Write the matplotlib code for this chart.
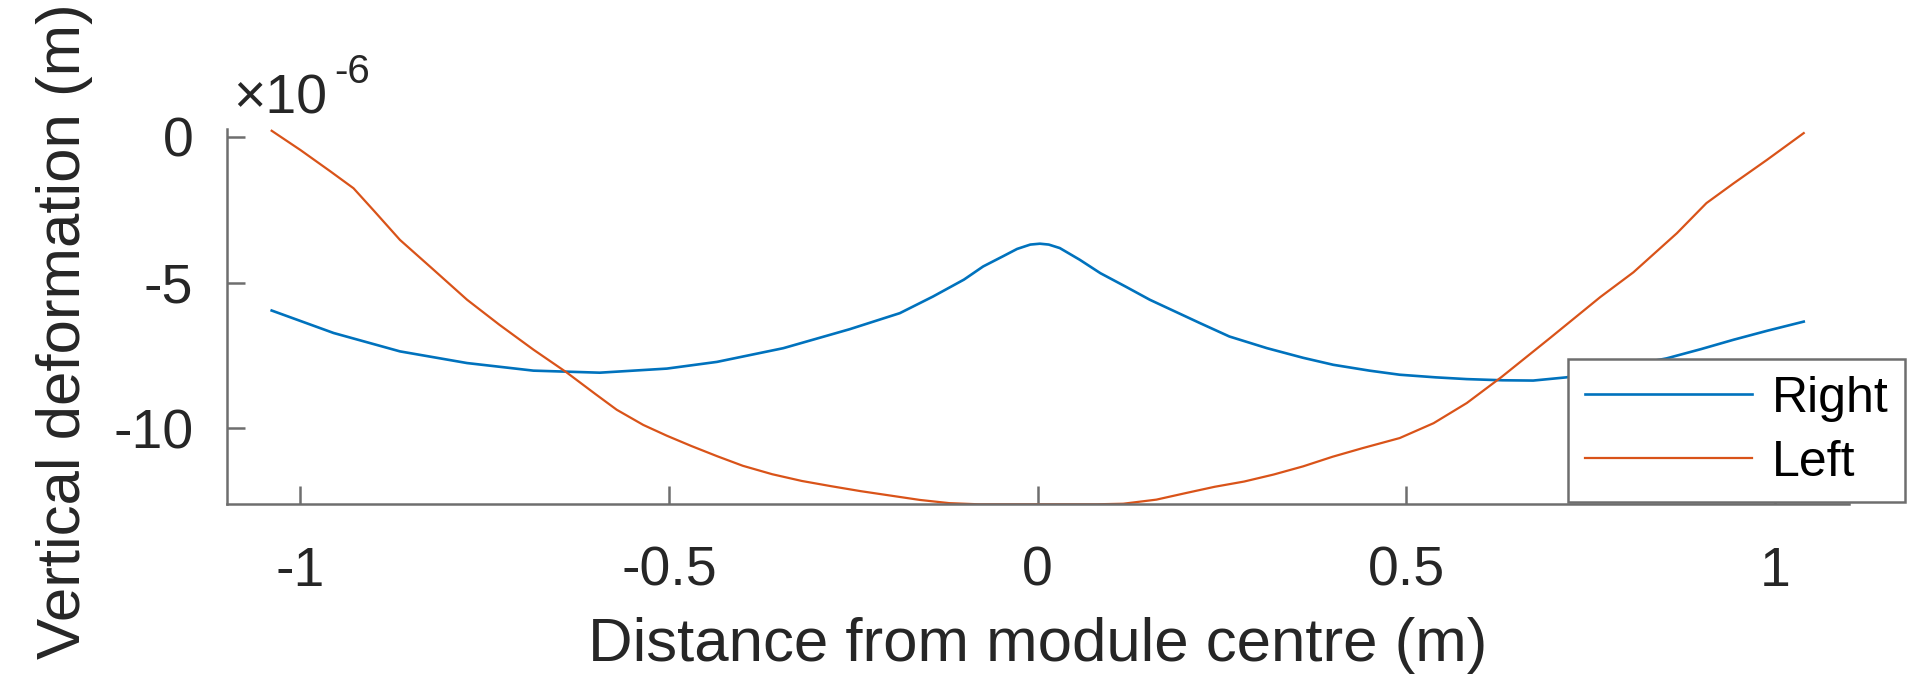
import matplotlib
matplotlib.use("Agg")
import matplotlib.pyplot as plt
from matplotlib.ticker import FuncFormatter, FixedLocator

# ---- data (vertical deformation in units of 1e-6 m) ----
x_right = [-1.039, -0.955, -0.865, -0.774, -0.684, -0.594, -0.503, -0.435, -0.345,
           -0.255, -0.187, -0.142, -0.100, -0.074, -0.047, -0.028, -0.010, 0.003,
           0.015, 0.030, 0.057, 0.085, 0.120, 0.152, 0.220, 0.260, 0.311, 0.360,
           0.401, 0.450, 0.491, 0.540, 0.582, 0.630, 0.672, 0.717, 0.853, 0.900,
           0.944, 0.990, 1.039]
y_right = [-5.96, -6.73, -7.36, -7.76, -8.02, -8.09, -7.95, -7.72, -7.25,
           -6.60, -6.05, -5.48, -4.90, -4.45, -4.10, -3.85, -3.70, -3.67,
           -3.70, -3.82, -4.22, -4.68, -5.15, -5.59, -6.39, -6.85, -7.25, -7.58,
           -7.82, -8.02, -8.16, -8.25, -8.31, -8.35, -8.36, -8.25, -7.60, -7.28,
           -6.96, -6.65, -6.34]

x_left = [-1.039, -1.000, -0.960, -0.928, -0.900, -0.865, -0.820, -0.774, -0.730,
          -0.684, -0.639, -0.600, -0.571, -0.535, -0.503, -0.470, -0.435, -0.400,
          -0.360, -0.320, -0.280, -0.240, -0.200, -0.160, -0.120, -0.080, 0.000,
          0.080, 0.116, 0.161, 0.200, 0.240, 0.280, 0.320, 0.360, 0.400, 0.440,
          0.491, 0.537, 0.582, 0.629, 0.695, 0.763, 0.808, 0.867, 0.907, 0.944,
          0.989, 1.039]
y_left = [0.20, -0.46, -1.18, -1.77, -2.55, -3.54, -4.55, -5.59, -6.45,
          -7.30, -8.08, -8.82, -9.36, -9.88, -10.25, -10.60, -10.95, -11.28,
          -11.57, -11.80, -11.98, -12.15, -12.30, -12.45, -12.56, -12.60, -12.60,
          -12.60, -12.58, -12.44, -12.22, -12.00, -11.82, -11.58, -11.30, -10.97, -10.68,
          -10.33, -9.82, -9.13, -8.24, -6.90, -5.50, -4.65, -3.31, -2.28, -1.60,
          -0.80, 0.12]

x_ticks = [-1, -0.5, 0, 0.5, 1]
y_ticks = [-10, -5, 0]
series_labels = ["Right", "Left"]
x_label = "Distance from module centre (m)"
y_label = "Vertical deformation (m)"

# ---- style ----
plt.rcParams['font.family'] = ['Liberation Sans', 'DejaVu Sans']
plt.rcParams['axes.unicode_minus'] = False
TXT = '#262626'
AX = '#6e6e6e'
BLUE = '#0072BD'
ORANGE = '#D95319'

fig = plt.figure(figsize=(19.2, 6.84), dpi=100)
ax = fig.add_axes([226.7 / 1920, 1 - 504.3 / 684, (1848.7 - 226.7) / 1920, (504.3 - 129.3) / 684])

ax.plot(x_right, y_right, color=BLUE, lw=1.9, label=series_labels[0])
ax.plot(x_left, y_left, color=ORANGE, lw=1.6, label=series_labels[1])

ax.set_xlim(-1.1, 1.1)
ax.set_ylim(-12.6, 0.25)

ax.xaxis.set_major_locator(FixedLocator(x_ticks))
ax.yaxis.set_major_locator(FixedLocator(y_ticks))
ax.xaxis.set_major_formatter(FuncFormatter(lambda v, p: '%g' % v))
ax.yaxis.set_major_formatter(FuncFormatter(lambda v, p: '%g' % v))

for s in ['top', 'right']:
    ax.spines[s].set_visible(False)
for s in ['left', 'bottom']:
    ax.spines[s].set_color(AX)
    ax.spines[s].set_linewidth(1.8)

ax.tick_params(direction='in', length=13, width=1.8, color=AX,
               labelsize=40, labelcolor=TXT)
ax.tick_params(axis='x', pad=30)
ax.tick_params(axis='y', pad=24)

ax.set_xlabel(x_label, fontsize=44.5, color=TXT, labelpad=14)
ax.set_ylabel(y_label, fontsize=44.5, color=TXT)
ax.yaxis.set_label_coords((93 - 226.7) / 1622, 0.463)

# exponent label (MATLAB style)
fig.text(233 / 1920, 1 - 114 / 684, '\u00d710', fontsize=40, color=TXT, ha='left', va='baseline')
fig.text(334 / 1920, 1 - 83 / 684, '-6', fontsize=29, color=TXT, ha='left', va='baseline')

leg = ax.legend(loc='upper left', bbox_to_anchor=(1568 / 1920, 1 - 359 / 684),
                bbox_transform=fig.transFigure, borderaxespad=0, fontsize=36,
                frameon=True, fancybox=False, shadow=False, framealpha=1,
                edgecolor=AX, handlelength=3.35, handletextpad=0.4,
                labelspacing=0.36, borderpad=0.33)
leg.get_frame().set_linewidth(1.8)
for t in leg.get_texts():
    t.set_color('black')

fig.savefig('out.png', dpi=100)
